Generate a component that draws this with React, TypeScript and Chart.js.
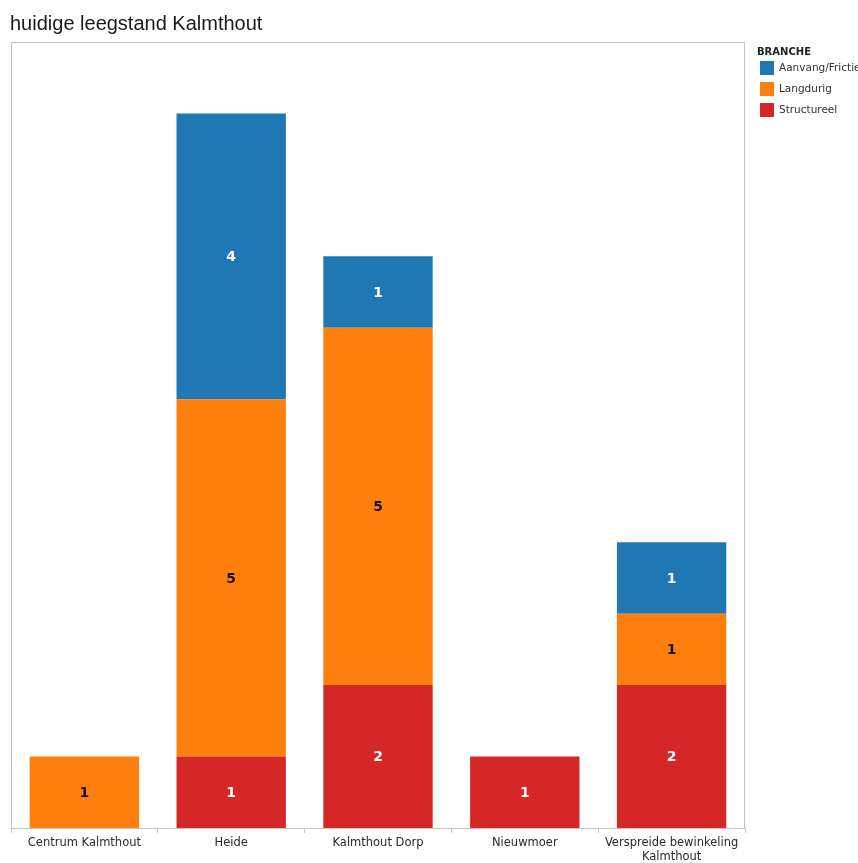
import React, { useEffect, useRef } from "react";
import { Chart, registerables } from "chart.js";

Chart.register(...registerables);

const categories: (string | string[])[] = [
  "Centrum Kalmthout",
  "Heide",
  "Kalmthout Dorp",
  "Nieuwmoer",
  ["Verspreide bewinkeling", "Kalmthout"],
];
const structureel = [0, 1, 2, 1, 2];
const langdurig = [1, 5, 5, 0, 1];
const aanvang = [0, 4, 1, 0, 1];
const legendTitle = "BRANCHE";
const title = "huidige leegstand Kalmthout";

const COLORS = { aanvang: "#1f77b4", langdurig: "#ff7f0e", structureel: "#d62728" };

export default function App() {
  const ref = useRef<HTMLCanvasElement>(null);
  useEffect(() => {
    if (!ref.current) return;
    const decor = {
      id: "decor",
      afterDraw(chart: any) {
        const ctx = chart.ctx;
        const a = chart.chartArea;
        ctx.save();
        // plot border
        ctx.strokeStyle = "#c4c4c4";
        ctx.lineWidth = 1;
        ctx.strokeRect(a.left + 0.5, a.top + 0.5, a.right - a.left - 1, a.bottom - a.top);
        // title
        ctx.fillStyle = "#1a1a1a";
        ctx.font = "20px 'Liberation Sans', Arial, sans-serif";
        ctx.textBaseline = "alphabetic";
        ctx.textAlign = "left";
        ctx.fillText(title, 10, 30);
        // legend
        ctx.font = "bold 10px 'DejaVu Sans', sans-serif";
        ctx.fillStyle = "#222";
        ctx.fillText(legendTitle, 757, 55);
        const items = [
          { label: "Aanvang/Frictie", color: COLORS.aanvang },
          { label: "Langdurig", color: COLORS.langdurig },
          { label: "Structureel", color: COLORS.structureel },
        ];
        ctx.font = "10.5px 'DejaVu Sans', sans-serif";
        items.forEach((it, i) => {
          const y = 61 + i * 21;
          ctx.fillStyle = it.color;
          ctx.fillRect(760, y, 14, 14);
          ctx.fillStyle = "#333";
          ctx.textBaseline = "middle";
          ctx.fillText(it.label, 779, y + 7);
        });
        // data labels
        ctx.font = "bold 14px 'DejaVu Sans', sans-serif";
        ctx.textAlign = "center";
        ctx.textBaseline = "middle";
        chart.data.datasets.forEach((ds: any, di: number) => {
          const meta = chart.getDatasetMeta(di);
          meta.data.forEach((bar: any, i: number) => {
            const v = ds.data[i];
            if (!v) return;
            ctx.fillStyle = ds.labelColor;
            ctx.fillText(String(v), bar.x, (bar.y + bar.base) / 2 + 1);
          });
        });
        ctx.restore();
      },
    };
    const chart = new Chart(ref.current, {
      type: "bar",
      data: {
        labels: categories,
        datasets: [
          { label: "Structureel", data: structureel, backgroundColor: COLORS.structureel, labelColor: "#ffffff" } as any,
          { label: "Langdurig", data: langdurig, backgroundColor: COLORS.langdurig, labelColor: "#111111" } as any,
          { label: "Aanvang/Frictie", data: aanvang, backgroundColor: COLORS.aanvang, labelColor: "#ffffff" } as any,
        ],
      },
      options: {
        animation: false,
        responsive: false,
        maintainAspectRatio: false,
        layout: { padding: { left: 11, top: 42, right: 113, bottom: 0 } },
        plugins: { legend: { display: false }, title: { display: false }, tooltip: { enabled: false } },
        datasets: { bar: { categoryPercentage: 0.745, barPercentage: 1 } },
        scales: {
          x: {
            stacked: true,
            grid: { display: true, drawOnChartArea: false, tickLength: 5, color: "#c4c4c4", offset: true },
            border: { display: false },
            ticks: {
              color: "#2a2a2a",
              font: { family: "'DejaVu Sans', sans-serif", size: 11.5 },
              padding: 3,
              maxRotation: 0,
              autoSkip: false,
            },
            afterFit(scale: any) {
              scale.height = 35;
            },
          },
          y: {
            stacked: true,
            display: false,
            min: 0,
            max: 11,
          },
        },
      },
      plugins: [decor],
    });
    return () => chart.destroy();
  }, []);
  return (
    <div style={{ position: "fixed", left: 0, top: 0, width: 858, height: 863, background: "#fff" }}>
      <canvas ref={ref} width={858} height={863} style={{ width: 858, height: 863, display: "block" }} />
    </div>
  );
}
